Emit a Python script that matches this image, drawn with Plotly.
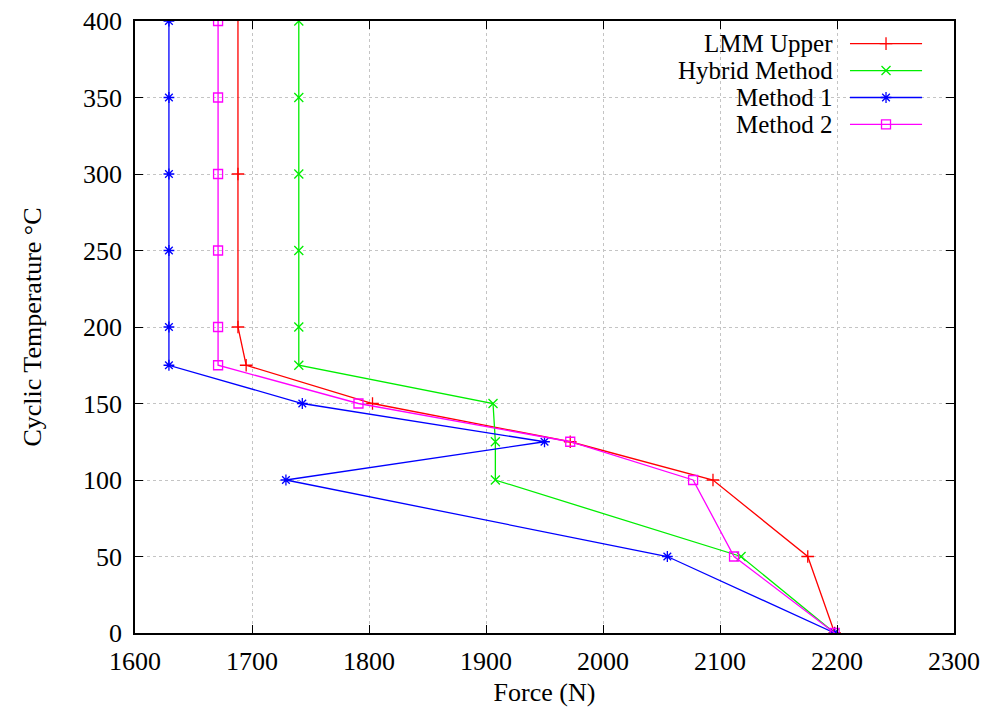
import plotly.graph_objects as go

temps_lmm = [0, 50, 100, 125, 150, 175, 200, 300, 450]
force_lmm = [2198, 2175, 2094, 1972, 1803, 1695, 1688, 1688, 1688]

temps = [0, 50, 100, 125, 150, 175, 200, 250, 300, 350, 400]
force_hybrid = [2198, 2118, 1908, 1908, 1906, 1740, 1740, 1740, 1740, 1740, 1740]
force_m1 = [2198, 2055, 1729, 1950, 1743, 1629, 1629, 1629, 1629, 1629, 1629]
force_m2 = [2198, 2112, 2077, 1972, 1791, 1671, 1671, 1671, 1671, 1671, 1671]

names = ["LMM Upper", "Hybrid Method", "Method 1", "Method 2"]
colors = ["#ff0000", "#00ee00", "#0000ff", "#ff00ff"]
symbols = ["cross-thin-open", "x-thin-open", "asterisk-open", "square-open"]
xs = [force_lmm, force_hybrid, force_m1, force_m2]
ys = [temps_lmm, temps, temps, temps]

FONT = "Liberation Serif, Times New Roman, DejaVu Serif, serif"
fig = go.Figure()
for n, c, s, x, y in zip(names, colors, symbols, xs, ys):
    fig.add_trace(go.Scatter(x=x, y=y, mode="lines+markers", name=n,
                             line=dict(color=c, width=1.3),
                             marker=dict(symbol=s, size=9, color=c,
                                         line=dict(color=c, width=1.3)),
                             showlegend=False))

# gnuplot-style legend (text right-aligned, sample on the right)
rows = [0.963, 0.919, 0.875, 0.831]
fig.add_shape(type="rect", xref="paper", yref="paper", x0=0.595, x1=0.978,
              y0=0.805, y1=1.0, fillcolor="white", line=dict(width=0),
              layer="between")
for n, c, s, ry in zip(names, colors, symbols, rows):
    fig.add_annotation(x=0.855, y=ry, xref="paper", yref="paper", text=n,
                       showarrow=False, xanchor="right", yanchor="middle",
                       font=dict(family=FONT, size=25, color="black"))
    fig.add_trace(go.Scatter(x=[0.873, 0.961], y=[ry, ry], xaxis="x2", yaxis="y2",
                             mode="lines", line=dict(color=c, width=1.3),
                             showlegend=False, hoverinfo="skip"))
    fig.add_trace(go.Scatter(x=[0.917], y=[ry], xaxis="x2", yaxis="y2",
                             mode="markers",
                             marker=dict(symbol=s, size=9, color=c,
                                         line=dict(color=c, width=1.3)),
                             showlegend=False, hoverinfo="skip"))

axis_common = dict(showline=True, linecolor="black", linewidth=1.5, mirror="ticks",
                   ticks="inside", ticklen=8, tickwidth=1, tickcolor="black",
                   showgrid=True, gridcolor="#c4c4c4", griddash="dot", gridwidth=1,
                   zeroline=False, automargin=False,
                   tickfont=dict(family=FONT, size=26, color="black"))

fig.update_layout(
    width=994, height=717,
    margin=dict(l=135, r=40, t=21, b=84),
    plot_bgcolor="white", paper_bgcolor="white",
    xaxis=dict(range=[1600, 2300], dtick=100, ticklabelstandoff=4,
               title=dict(text="Force (N)", font=dict(family=FONT, size=26, color="black"),
                          standoff=8),
               **axis_common),
    yaxis=dict(range=[0, 400], dtick=50, ticklabelstandoff=6,
               title=dict(text="Cyclic Temperature °C",
                          font=dict(family=FONT, size=26, color="black"), standoff=34),
               **axis_common),
    xaxis2=dict(overlaying="x", range=[0, 1], visible=False),
    yaxis2=dict(overlaying="y", range=[0, 1], visible=False),
)

fig.write_html("out.html")
